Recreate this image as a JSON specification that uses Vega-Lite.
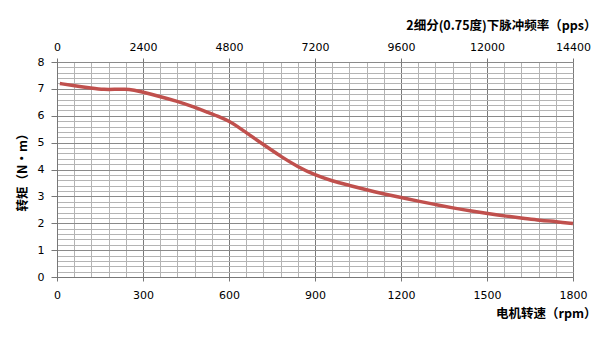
{
  "$schema": "https://vega.github.io/schema/vega-lite/v6.json",
  "width": 516,
  "height": 215,
  "autosize": {"type": "none"},
  "padding": {"left": 57, "top": 62, "right": 33, "bottom": 64},
  "background": "white",
  "config": {
    "view": {"stroke": null},
    "axis": {
      "labelFont": "DejaVu Sans",
      "labelFontSize": 11,
      "labelColor": "#000000",
      "titleFont": "Noto Sans CJK SC",
      "titleFontSize": 12.5,
      "titleFontWeight": "bold",
      "titleColor": "#000000",
      "domainColor": "#777777",
      "tickColor": "#777777"
    }
  },
  "data": {
    "values": [
      {"rpm": 10, "torque": 7.2},
      {"rpm": 60, "torque": 7.12},
      {"rpm": 120, "torque": 7.03},
      {"rpm": 166, "torque": 6.97},
      {"rpm": 200, "torque": 6.98},
      {"rpm": 236, "torque": 7.0},
      {"rpm": 270, "torque": 6.95},
      {"rpm": 300, "torque": 6.88},
      {"rpm": 358, "torque": 6.72},
      {"rpm": 416, "torque": 6.55},
      {"rpm": 474, "torque": 6.34},
      {"rpm": 530, "torque": 6.11},
      {"rpm": 567, "torque": 5.96},
      {"rpm": 600, "torque": 5.8},
      {"rpm": 630, "torque": 5.6},
      {"rpm": 660, "torque": 5.37},
      {"rpm": 720, "torque": 4.93},
      {"rpm": 780, "torque": 4.49},
      {"rpm": 840, "torque": 4.1},
      {"rpm": 900, "torque": 3.79},
      {"rpm": 960, "torque": 3.57},
      {"rpm": 1020, "torque": 3.41},
      {"rpm": 1080, "torque": 3.24},
      {"rpm": 1137, "torque": 3.1},
      {"rpm": 1200, "torque": 2.96},
      {"rpm": 1266, "torque": 2.81},
      {"rpm": 1323, "torque": 2.69},
      {"rpm": 1381, "torque": 2.57},
      {"rpm": 1440, "torque": 2.46},
      {"rpm": 1502, "torque": 2.36},
      {"rpm": 1568, "torque": 2.26},
      {"rpm": 1626, "torque": 2.19},
      {"rpm": 1684, "torque": 2.11},
      {"rpm": 1742, "torque": 2.06},
      {"rpm": 1800, "torque": 1.99}
    ]
  },
  "layer": [
    {
      "mark": {"type": "line", "color": "#C0504D", "strokeWidth": 3.5, "interpolate": "basis"},
      "encoding": {
        "x": {
          "field": "rpm",
          "type": "quantitative",
          "scale": {"domain": [0, 1800], "nice": false},
          "axis": {
            "orient": "bottom",
            "values": [0,60,120,180,240,300,360,420,480,540,600,660,720,780,840,900,960,1020,1080,1140,1200,1260,1320,1380,1440,1500,1560,1620,1680,1740,1800],
            "labelExpr": "datum.value % 300 === 0 ? datum.label : ''",
            "format": "d",
            "labelOverlap": false,
            "labelFlush": false,
            "grid": true,
            "gridColor": {"condition": {"test": "datum.value % 300 === 0", "value": "#7a7a7a"}, "value": "#b4b4b4"},
            "gridOpacity": 1,
            "tickSize": 4,
            "tickOpacity": {"condition": {"test": "datum.value % 300 === 0", "value": 1}, "value": 0},
            "labelPadding": 8,
            "title": "电机转速（rpm）",
            "titleAnchor": null,
            "titleAlign": "right",
            "titleBaseline": "middle",
            "titleX": 539,
            "titleY": 36
          }
        },
        "y": {
          "field": "torque",
          "type": "quantitative",
          "scale": {"domain": [0, 8], "nice": false},
          "axis": {
            "values": [0,0.2,0.4,0.6,0.8,1,1.2,1.4,1.6,1.8,2,2.2,2.4,2.6,2.8,3,3.2,3.4,3.6,3.8,4,4.2,4.4,4.6,4.8,5,5.2,5.4,5.6,5.8,6,6.2,6.4,6.6,6.8,7,7.2,7.4,7.6,7.8,8],
            "labelExpr": "abs(datum.value - round(datum.value)) < 0.001 ? format(datum.value, 'd') : ''",
            "labelOverlap": false,
            "labelFlush": false,
            "grid": true,
            "gridColor": {"condition": {"test": "abs(datum.value - round(datum.value)) < 0.001", "value": "#8a8a8a"}, "value": "#b4b4b4"},
            "gridOpacity": 1,
            "tickSize": 6,
            "tickOpacity": {"condition": {"test": "abs(datum.value - round(datum.value)) < 0.001", "value": 1}, "value": 0},
            "labelPadding": 7,
            "title": "转矩（N·m）",
            "titleAnchor": null,
            "titleAlign": "center",
            "titleBaseline": "middle",
            "titleAngle": -90,
            "titleX": -35,
            "titleY": 107
          }
        }
      }
    },
    {
      "mark": {"type": "point", "opacity": 0},
      "encoding": {
        "x": {
          "field": "rpm",
          "type": "quantitative",
          "scale": {"domain": [0, 1800], "nice": false},
          "axis": {
            "orient": "top",
            "values": [0,300,600,900,1200,1500,1800],
            "labelExpr": "format(datum.value * 8, 'd')",
            "labelOverlap": false,
            "labelFlush": false,
            "grid": false,
            "domain": false,
            "tickSize": 4,
            "labelPadding": 6,
            "title": "2细分(0.75度)下脉冲频率（pps）",
            "titleAnchor": null,
            "titleAlign": "right",
            "titleBaseline": "middle",
            "titleX": 539,
            "titleY": -37
          }
        }
      }
    }
  ],
  "resolve": {"axis": {"x": "independent"}}
}
